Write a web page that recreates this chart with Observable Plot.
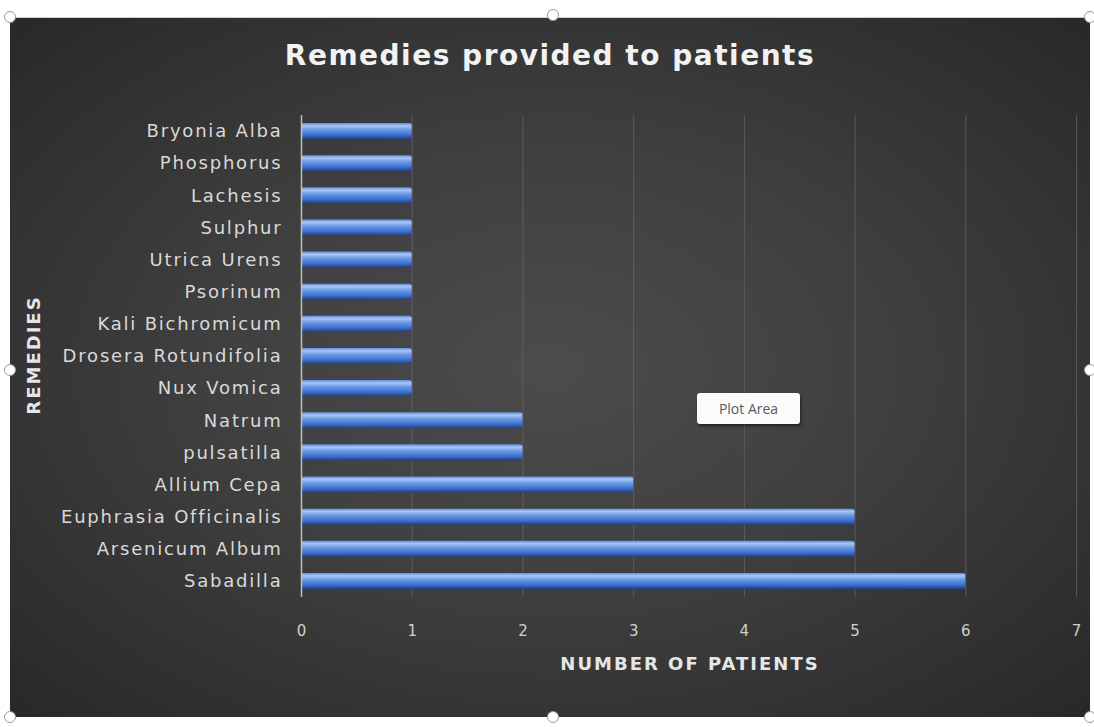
<!DOCTYPE html>
<html>
<head>
<meta charset="utf-8">
<script src="https://cdn.jsdelivr.net/npm/d3@7"></script>
<script src="https://cdn.jsdelivr.net/npm/@observablehq/plot@0.6"></script>
<style>
  html, body { margin: 0; padding: 0; background: #ffffff; width: 1094px; height: 727px; overflow: hidden; }
  #box { position: absolute; left: 10px; top: 17px; width: 1080px; height: 700px;
         background: radial-gradient(ellipse at 50% 50%, #4c4c4c 0%, #3f3f3f 45%, #282828 100%);
         border-top: 1px solid #cfcfcf; box-sizing: border-box; font-family: "DejaVu Sans", sans-serif; }
  #title { position: absolute; left: 0; width: 100%; top: 21px; text-align: center; color: #f2f2f2;
           font-weight: bold; font-size: 28px; letter-spacing: 1.5px; }
  #ylab { position: absolute; left: 23px; top: 337px; transform: translate(-50%, -50%) rotate(-90deg);
          color: #e6e6e6; font-weight: bold; font-size: 18px; letter-spacing: 2px; white-space: nowrap; }
  #xlab { position: absolute; left: 680px; top: 635px; transform: translateX(-50%);
          color: #e6e6e6; font-weight: bold; font-size: 18px; letter-spacing: 2px; white-space: nowrap; }
  #tip { position: absolute; left: 697px; top: 393px; width: 103px; height: 31px; background: #fbfbfb;
         border-radius: 3px; box-shadow: 1px 2px 3px rgba(0,0,0,0.5); color: #5a5a5a; font-size: 14px;
         font-family: "Open Sans", sans-serif; line-height: 31px; text-align: center; }
  .h { position: absolute; width: 10px; height: 10px; border-radius: 50%; background: #fff;
       border: 1.5px solid #9a9a9a; transform: translate(-50%, -50%); }
  #plot { position: absolute; left: 10px; top: 17px; }
  #plot g[aria-label="y-axis tick label"] text { letter-spacing: 1.8px; }
</style>
</head>
<body>
<div id="box">
  <div id="title">Remedies provided to patients</div>
  <div id="ylab">REMEDIES</div>
  <div id="xlab">NUMBER OF PATIENTS</div>
</div>
<div id="plot"></div>
<div id="tip">Plot Area</div>
<div class="h" style="left:10px;top:17px"></div>
<div class="h" style="left:553px;top:15px"></div>
<div class="h" style="left:1090px;top:17px"></div>
<div class="h" style="left:10px;top:370px"></div>
<div class="h" style="left:1090px;top:370px"></div>
<div class="h" style="left:10px;top:717px"></div>
<div class="h" style="left:553px;top:717px"></div>
<div class="h" style="left:1090px;top:717px"></div>
<script>
const remedies = ["Bryonia Alba", "Phosphorus", "Lachesis", "Sulphur", "Utrica Urens", "Psorinum",
  "Kali Bichromicum", "Drosera Rotundifolia", "Nux Vomica", "Natrum", "pulsatilla", "Allium Cepa",
  "Euphrasia Officinalis", "Arsenicum Album", "Sabadilla"];
const patients = [1, 1, 1, 1, 1, 1, 1, 1, 1, 2, 2, 3, 5, 5, 6];
const xTicks = [0, 1, 2, 3, 4, 5, 6, 7];

const data = remedies.map((r, i) => ({remedy: r, count: patients[i]}));

const chart = Plot.plot({
  width: 1080,
  height: 700,
  marginLeft: 291,
  marginRight: 14,
  marginTop: 98,
  marginBottom: 120,
  style: {background: "transparent", color: "#d9d9d9", fontFamily: "DejaVu Sans, sans-serif", fontSize: "15px"},
  x: {domain: [0, 7], ticks: xTicks, label: null},
  y: {domain: remedies, label: null, paddingInner: 0.5, paddingOuter: 0.25, round: false},
  marks: [
    Plot.gridX(xTicks, {stroke: "#6a6a6a", strokeOpacity: 0.7}),
    Plot.axisX({ticks: xTicks, tickSize: 0, tickPadding: 28, fontSize: 15, label: null, fill: "#d0d0d0", tickFormat: "d"}),
    Plot.axisY({tickSize: 0, tickPadding: 19, fontSize: 18, label: null, fill: "#d9d9d9"}),
    Plot.barX(data, {x: "count", y: "remedy", fill: "url(#barGrad)", rx: 2}),
    Plot.ruleX([0], {stroke: "#bfbfbf", strokeWidth: 1.5})
  ]
});

const ns = "http://www.w3.org/2000/svg";
const defs = document.createElementNS(ns, "defs");
defs.innerHTML = `<linearGradient id="barGrad" x1="0" y1="0" x2="0" y2="1">
  <stop offset="0%" stop-color="#5d8be0"/>
  <stop offset="18%" stop-color="#a9c7f5"/>
  <stop offset="40%" stop-color="#6d9be8"/>
  <stop offset="75%" stop-color="#3e6fcb"/>
  <stop offset="100%" stop-color="#1f3f80"/>
</linearGradient>`;
chart.insertBefore(defs, chart.firstChild);
document.getElementById("plot").appendChild(chart);
</script>
</body>
</html>
